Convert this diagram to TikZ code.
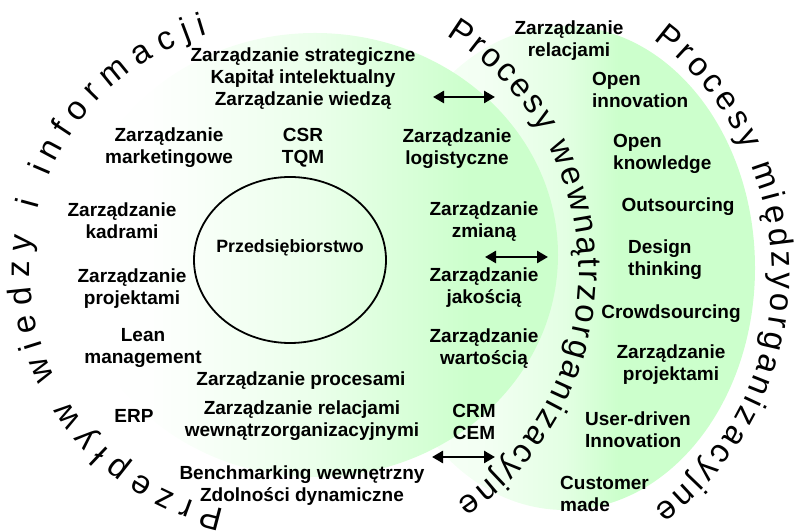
\documentclass[tikz,border=0pt]{standalone}
\usepackage{fontspec}
\setmainfont{Liberation Sans}
\usetikzlibrary{decorations.text,arrows.meta,shapes.geometric}

\definecolor{lgreen}{HTML}{CCFFCC}
\colorlet{gA}{lgreen!2!white}
\colorlet{gB}{lgreen!40!white}
\colorlet{gC}{lgreen!12!white}
\colorlet{gD}{lgreen!25!white}
\colorlet{gE}{lgreen!55!white}

% soft horizontal fills of the two process areas
\pgfdeclarehorizontalshading{leftglow}{100bp}{color(0bp)=(white); color(27bp)=(white); color(33bp)=(gA); color(50bp)=(gB); color(66bp)=(lgreen); color(100bp)=(lgreen)}
\pgfdeclarehorizontalshading{rightglow}{100bp}{color(0bp)=(gC); color(25bp)=(gC); color(40bp)=(gD); color(50bp)=(gE); color(57bp)=(lgreen); color(100bp)=(lgreen)}

\newcommand\arcfont{\fontsize{33}{33}\selectfont}

\tikzset{
  lbl/.style={font=\bfseries\fontsize{19}{22}\selectfont, align=center, inner sep=0pt},
  lbll/.style={lbl, align=left, anchor=west},
  twoway/.style={{Triangle[length=11pt,width=12pt]}-{Triangle[length=11pt,width=12pt]}, line width=2.6pt},
  arctext/.style={decorate, decoration={text along path, text align=fit to path, text={|\arcfont|#1}}}
}

\begin{document}
\begin{tikzpicture}[x=1pt,y=1pt]
\useasboundingbox (0,0) rectangle (795,532);

% process areas
\shade[shading=rightglow] (565,264) ellipse [x radius=190, y radius=242];
\shade[shading=leftglow] (315,277) ellipse [x radius=243, y radius=222];

% the enterprise
\node (firm) [ellipse, draw, line width=1.8pt, minimum width=192pt, minimum height=166pt, inner sep=0pt] at (290,272) {};
\node (firmlabel) [font=\bfseries\fontsize{17.8}{20}\selectfont, inner sep=0pt] at (290,284) {Przedsiębiorstwo};

% curved headings
\coordinate (ck) at (275,262);
\coordinate (cw) at (302,260);
\coordinate (cm) at (480,258);
\path[arctext={Przepływ wiedzy i informacji}] ([shift={(258:245)}]ck) arc[start angle=258, end angle=106, radius=245];
\path[arctext={Procesy wewnątrzorganizacyjne}] ([shift={(58.5:277)}]cw) arc[start angle=58.5, end angle=-56, radius=277];
\path[arctext={Procesy międzyorganizacyjne}] ([shift={(53.5:292)}]cm) arc[start angle=53.5, end angle=-53.5, radius=292];

% inner labels
\node[lbl] (strat) at (303,453) {Zarządzanie strategiczne\\Kapitał intelektualny\\Zarządzanie wiedzą};
\node[lbl] (mark) at (169,384) {Zarządzanie\\marketingowe};
\node[lbl] (csr) at (303,384) {CSR\\TQM};
\node[lbl] (logi) at (457,383) {Zarządzanie\\logistyczne};
\node[lbl] (kadr) at (122,311) {Zarządzanie\\kadrami};
\node[lbl] (zmiana) at (484,310) {Zarządzanie\\zmianą};
\node[lbl] (projL) at (132,243) {Zarządzanie\\projektami};
\node[lbl] (lean) at (143,184) {Lean\\management};
\node[lbl] (erp) at (134,116) {ERP};
\node[lbl] (proc) at (301,151) {Zarządzanie procesami};
\node[lbl] (relw) at (302,111) {Zarządzanie relacjami\\wewnątrzorganizacyjnymi};
\node[lbl] (bench) at (302,46) {Benchmarking wewnętrzny\\Zdolności dynamiczne};
\node[lbl] (jak) at (484,244) {Zarządzanie\\jakością};
\node[lbl] (wart) at (484,183) {Zarządzanie\\wartością};
\node[lbl] (crm) at (474,110) {CRM\\CEM};

% outer labels
\node[lbl] (relR) at (569,491) {Zarządzanie\\relacjami};
\node[lbll] (openi) at (592,442) {Open\\innovation};
\node[lbll] (openk) at (613,378) {Open\\knowledge};
\node[lbl] (outs) at (678,325) {Outsourcing};
\node[lbll] (design) at (628,272) {Design\\thinking};
\node[lbl] (crowd) at (671,218) {Crowdsourcing};
\node[lbl] (projR) at (671,167) {Zarządzanie\\projektami};
\node[lbll] (user) at (585,102) {User-driven\\Innovation};
\node[lbll] (cust) at (560,38) {Customer\\made};

% two-way links between the areas
\coordinate (t1a) at (433,435); \coordinate (t1b) at (495,435);
\coordinate (t2a) at (485,275); \coordinate (t2b) at (548,275);
\coordinate (t3a) at (432,75);  \coordinate (t3b) at (495,75);
\draw[twoway] (t1a) -- (t1b);
\draw[twoway] (t2a) -- (t2b);
\draw[twoway] (t3a) -- (t3b);
\end{tikzpicture}
\end{document}
